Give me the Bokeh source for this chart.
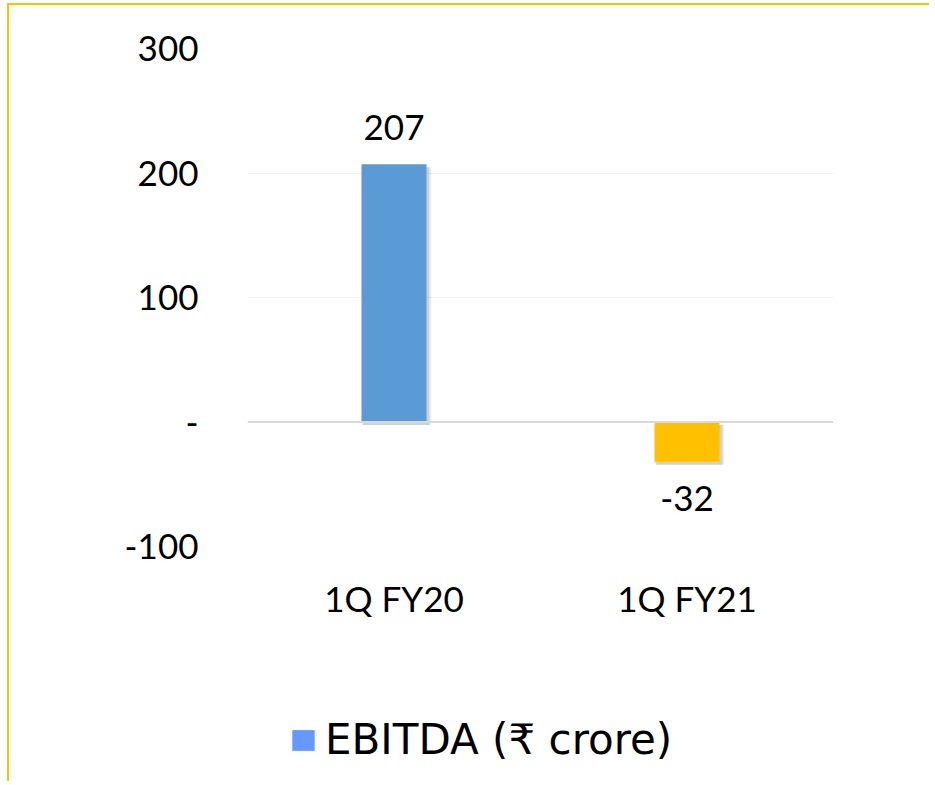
import numpy as np
from bokeh.plotting import figure
from bokeh.layouts import column
from bokeh.models import (ColumnDataSource, FixedTicker, LabelSet, Span, Legend,
                          LegendItem)
from bokeh.core.properties import value
from bokeh.transform import dodge
from bokeh.embed import file_html
from bokeh.resources import INLINE

categories = ["1Q FY20", "1Q FY21"]
ebitda = [207, -32]
bar_colors = ["#5B9BD5", "#FFC000"]
legend_color = "#6699FF"
y_ticks = [-100, 0, 100, 200, 300]
y_tick_labels = {-100: "-100", 0: "-", 100: "100", 200: "200", 300: "300"}
series_name = "EBITDA (₹ crore)"

vals = np.array(ebitda, dtype=float)
shift = 2.4
src = ColumnDataSource(dict(
    cat=categories,
    val=vals,
    color=bar_colors,
    lab=[str(int(v)) for v in vals],
    off=np.sign(vals) * 37,
    s_top=np.maximum(vals, 0) - shift,
    s_bot=np.minimum(vals, 0) - shift,
))

FONT = "Lato"

p = figure(x_range=categories, y_range=(-100, 300), width=920, height=631,
           output_backend="svg", toolbar_location=None,
           min_border_left=238, min_border_right=96,
           min_border_top=43, min_border_bottom=90)
p.outline_line_color = None
p.background_fill_color = "white"
p.border_fill_color = "white"

# grid
p.xgrid.grid_line_color = None
p.ygrid.ticker = FixedTicker(ticks=[t for t in y_ticks if t != 0])
p.ygrid.grid_line_color = "#F2F2F2"
p.ygrid.grid_line_width = 1
zero = Span(location=0, dimension="width", line_color="#D9D9D9", line_width=2)
p.add_layout(zero)

# soft shadows
p.vbar(x=dodge("cat", 0.01, range=p.x_range), top="s_top", bottom="s_bot",
       width=0.235, source=src, fill_color="black", fill_alpha=0.07, line_color=None)
p.vbar(x=dodge("cat", 0.008, range=p.x_range), top="s_top", bottom="s_bot",
       width=0.226, source=src, fill_color="black", fill_alpha=0.12, line_color=None)

p.vbar(x="cat", top="val", bottom=0, width=0.222, source=src,
       fill_color="color", line_color=None)

labels = LabelSet(x="cat", y="val", text="lab", y_offset="off", source=src,
                  text_align="center", text_baseline="middle",
                  text_font=value(FONT), text_font_size=value("35px"),
                  text_color=value("#000000"))
p.add_layout(labels)

# axes
p.yaxis.ticker = FixedTicker(ticks=y_ticks)
p.yaxis.major_label_overrides = y_tick_labels
p.yaxis.axis_line_color = None
p.yaxis.major_tick_line_color = None
p.yaxis.minor_tick_line_color = None
p.yaxis.major_label_standoff = 43
p.yaxis.major_label_text_font = FONT
p.yaxis.major_label_text_font_size = "35px"
p.yaxis.major_label_text_color = "#000000"

p.xaxis.axis_line_color = None
p.xaxis.major_tick_line_color = None
p.xaxis.minor_tick_line_color = None
p.xaxis.major_label_standoff = 24
p.xaxis.major_label_text_font = FONT
p.xaxis.major_label_text_font_size = "35px"
p.xaxis.major_label_text_color = "#000000"

# legend strip (frame is aligned with the main plot's frame)
q = figure(width=920, height=145, output_backend="svg", toolbar_location=None,
           x_axis_type=None, y_axis_type=None,
           min_border_left=0, min_border_right=0, min_border_top=0, min_border_bottom=0)
q.outline_line_color = None
q.xgrid.grid_line_color = None
q.ygrid.grid_line_color = None
q.border_fill_color = "white"
leg_src = ColumnDataSource(dict(l=[np.nan], r=[np.nan], t=[np.nan], b=[np.nan]))
leg_r = q.quad(left="l", right="r", top="t", bottom="b", source=leg_src,
               fill_color=legend_color, line_color=None)
legend = Legend(items=[LegendItem(label=series_name, renderers=[leg_r])],
                location=(42, 17), orientation="horizontal",
                glyph_width=28, glyph_height=26, label_standoff=8,
                padding=0, margin=0, spacing=0,
                label_text_font="DejaVu Sans", label_text_font_size="42px",
                label_text_color="#000000",
                background_fill_alpha=0, border_line_color=None)
q.add_layout(legend)

layout = column(p, q, spacing=0)
layout.styles = {"border-top": "2px solid #FFC000", "border-left": "2px solid #FFC000",
                 "margin-left": "7px", "margin-top": "3px"}

open("out.html", "w").write(file_html(layout, INLINE))
